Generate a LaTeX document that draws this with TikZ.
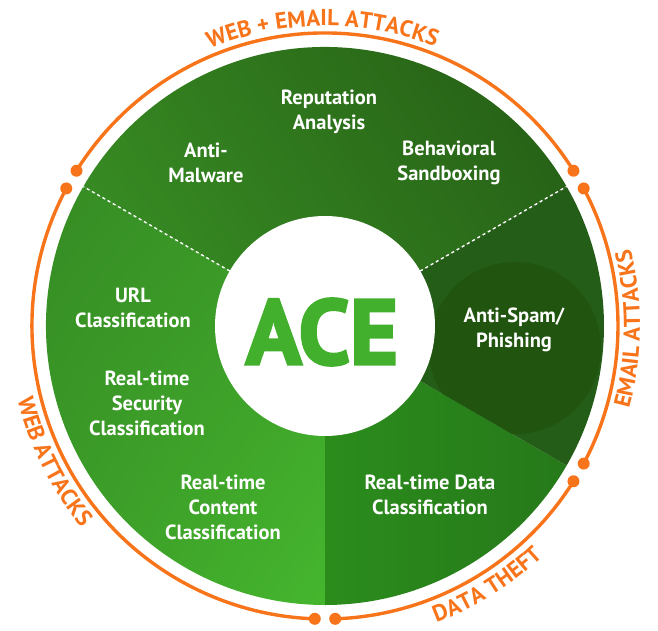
\documentclass[tikz,border=0pt]{standalone}
\usepackage{fontspec}
\setsansfont{PT Sans}
\newfontfamily\acefam[FakeBold=3]{PT Sans Bold}
\usetikzlibrary{decorations.text,shadings}

\definecolor{ringorange}{HTML}{F8741A}
\definecolor{acegreen}{HTML}{42B02C}
\definecolor{topul}{HTML}{33801F}
\definecolor{topur}{HTML}{245A14}
\definecolor{topll}{HTML}{3A9326}
\definecolor{toplr}{HTML}{2A6A19}
\definecolor{leftul}{HTML}{358A23}
\definecolor{leftur}{HTML}{3C9B28}
\definecolor{leftll}{HTML}{3B9A28}
\definecolor{leftlr}{HTML}{45B62E}
\definecolor{datal}{HTML}{2B8C1C}
\definecolor{datar}{HTML}{26791A}
\definecolor{spamgreen}{HTML}{245D17}
\definecolor{spamdark}{HTML}{20540F}

\newcommand\discr{279}
\newcommand\holer{110}
\newcommand\ringr{293}
\newcommand\dotr{6}
\newcommand\blurbfont{\sffamily\bfseries\fontsize{20.5}{25}\selectfont}
\newcommand\ringfont{\sffamily\bfseries\fontsize{23}{23}\selectfont}
\newcommand\acefont{\acefam\fontsize{92}{92}\selectfont}

\tikzset{
  blurb/.style={text=white,font=\blurbfont,align=center,inner sep=0pt},
  dashedge/.style={white,line width=1.4pt,dash pattern=on 3pt off 3pt},
  ringarc/.style={ringorange,line width=3.4pt},
}

\begin{document}
\begin{tikzpicture}[x=1pt,y=1pt]
    \useasboundingbox (-325,-304) rectangle (333,326);
    \coordinate (c) at (0,0);

    % sectors
    \shade[upper left=topul,upper right=topur,lower left=topll,lower right=toplr]
      (c) -- (30:\discr) arc[start angle=30,end angle=150,radius=\discr] -- cycle;
    \shade[upper left=leftul,upper right=leftur,lower left=leftll,lower right=leftlr]
      (c) -- (150:\discr) arc[start angle=150,end angle=270,radius=\discr] -- cycle;
    \shade[left color=datal,right color=datar]
      (c) -- (270:\discr) arc[start angle=270,end angle=330,radius=\discr] -- cycle;
    \fill[spamgreen]
      (c) -- (-30:\discr) arc[start angle=-30,end angle=30,radius=\discr] -- cycle;
    \begin{scope}
      \clip (c) -- (-30:\discr) arc[start angle=-30,end angle=30,radius=\discr] -- cycle;
      \fill[spamdark] (190,-22) circle[radius=86];
    \end{scope}

    % centre
    \fill[white] (c) circle[radius=\holer];
    \node[font=\acefont,text=acegreen,inner sep=0pt] (ace) at (-3,-6) {ACE};

    % dotted borders
    \coordinate (hole30) at (30:\holer);
    \coordinate (rim30) at (30:\discr);
    \coordinate (hole150) at (150:\holer);
    \coordinate (rim150) at (150:\discr);
    \draw[dashedge] (hole30) -- (rim30);
    \draw[dashedge] (hole150) -- (rim150);

    % outer ring
    \draw[ringarc] (32:\ringr) arc[start angle=32,end angle=148,radius=\ringr];
    \draw[ringarc] (-28:\ringr) arc[start angle=-28,end angle=28,radius=\ringr];
    \draw[ringarc] (-88:\ringr) arc[start angle=-88,end angle=-32,radius=\ringr];
    \draw[ringarc] (152:\ringr) arc[start angle=152,end angle=268,radius=\ringr];
    \fill[ringorange] (32:\ringr) circle[radius=\dotr] (148:\ringr) circle[radius=\dotr];
    \fill[ringorange] (-28:\ringr) circle[radius=\dotr] (28:\ringr) circle[radius=\dotr];
    \fill[ringorange] (-88:\ringr) circle[radius=\dotr] (-32:\ringr) circle[radius=\dotr];
    \fill[ringorange] (152:\ringr) circle[radius=\dotr] (268:\ringr) circle[radius=\dotr];

    % ring labels
    \path[decorate,decoration={text along path,text align=center,
      text={|\ringfont\color{ringorange}|WEB + EMAIL ATTACKS}}]
      (150:300) arc[start angle=150,end angle=31,radius=300];
    \path[decorate,decoration={text along path,text align=center,
      text={|\ringfont\color{ringorange}|EMAIL ATTACKS}}]
      (-29:315) arc[start angle=-29,end angle=28,radius=315];
    \path[decorate,decoration={text along path,text align=center,
      text={|\ringfont\color{ringorange}|DATA THEFT}}]
      (-86:317) arc[start angle=-86,end angle=-30,radius=317];
    \path[decorate,decoration={text along path,text align=center,
      text={|\ringfont\color{ringorange}|WEB ATTACKS}}]
      (145:316) arc[start angle=145,end angle=268,radius=316];

    % sector texts
    \node[blurb] (reputation) at (4,214) {Reputation\\Analysis};
    \node[blurb] (antimalware) at (-119,163) {Anti-\\Malware};
    \node[blurb] (sandboxing) at (124,163) {Behavioral\\Sandboxing};
    \node[blurb] (url) at (-192,18) {URL\\Classification};
    \node[blurb] (security) at (-178,-77) {Real-time\\Security\\Classification};
    \node[blurb] (content) at (-102,-181) {Real-time\\Content\\Classification};
    \node[blurb] (antispam) at (189,-4) {Anti-Spam/\\Phishing};
    \node[blurb] (datacls) at (105,-169) {Real-time Data\\Classification};
  \end{tikzpicture}
\end{document}
